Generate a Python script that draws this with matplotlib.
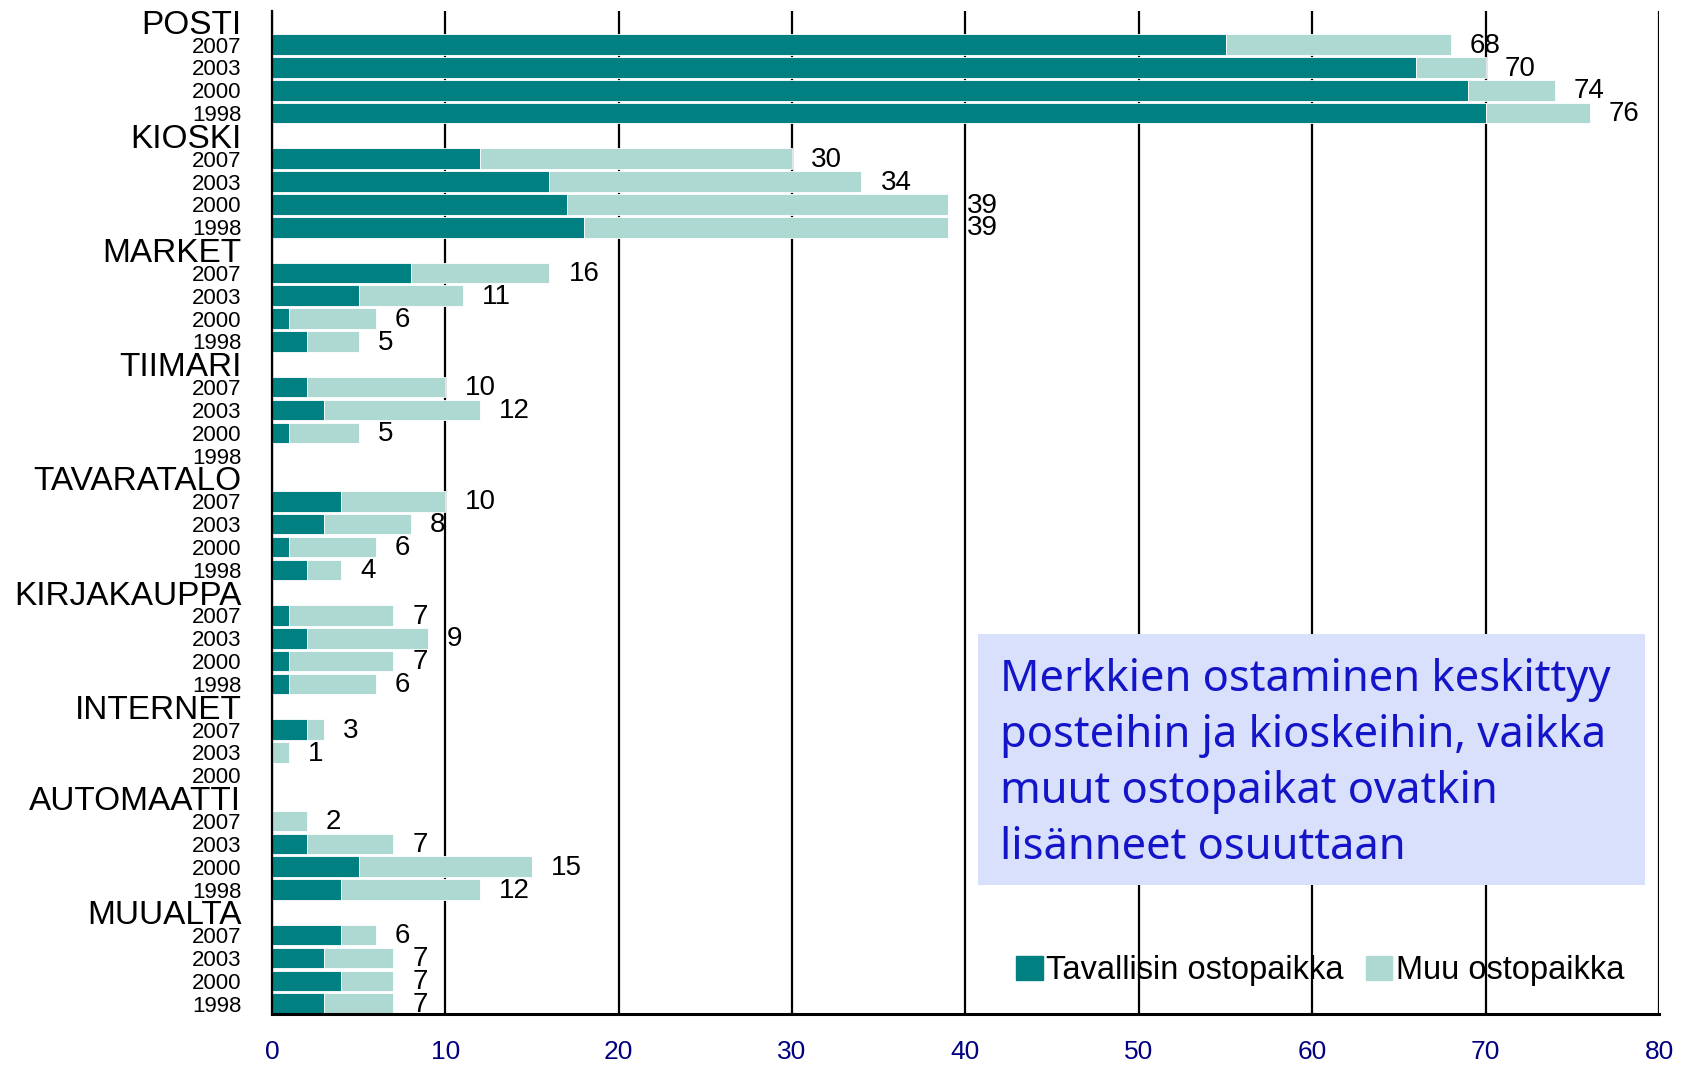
import matplotlib.pyplot as plt
import numpy as np

categories = ['POSTI', 'KIOSKI', 'MARKET', 'TIIMARI', 'TAVARATALO',
              'KIRJAKAUPPA', 'INTERNET', 'AUTOMAATTI', 'MUUALTA']
years = [
    ['2007', '2003', '2000', '1998'],
    ['2007', '2003', '2000', '1998'],
    ['2007', '2003', '2000', '1998'],
    ['2007', '2003', '2000', '1998'],
    ['2007', '2003', '2000', '1998'],
    ['2007', '2003', '2000', '1998'],
    ['2007', '2003', '2000'],
    ['2007', '2003', '2000', '1998'],
    ['2007', '2003', '2000', '1998'],
]
# Tavallisin ostopaikka (dark part)
tavallisin = [
    [55, 66, 69, 70],
    [12, 16, 17, 18],
    [8, 5, 1, 2],
    [2, 3, 1, None],
    [4, 3, 1, 2],
    [1, 2, 1, 1],
    [2, 0, None],
    [0, 2, 5, 4],
    [4, 3, 4, 3],
]
# total (Tavallisin + Muu)
yhteensa = [
    [68, 70, 74, 76],
    [30, 34, 39, 39],
    [16, 11, 6, 5],
    [10, 12, 5, None],
    [10, 8, 6, 4],
    [7, 9, 7, 6],
    [3, 1, None],
    [2, 7, 15, 12],
    [6, 7, 7, 7],
]

dark = '#008080'
light = '#AED8D2'

plt.rcParams['font.family'] = ['Liberation Sans', 'DejaVu Sans']
fig = plt.figure(figsize=(16.86, 10.66), dpi=100)
ax = fig.add_axes([0.1613, 0.0488, 0.8227, 0.9409])

ytick_pos, ytick_lab, ytick_big = [], [], []
row = 0
for cat, yrs, tav, tot in zip(categories, years, tavallisin, yhteensa):
    ytick_pos.append(row)
    ytick_lab.append(cat)
    ytick_big.append(True)
    row += 1
    for yr, d, t in zip(yrs, tav, tot):
        ytick_pos.append(row)
        ytick_lab.append(yr)
        ytick_big.append(False)
        if t is not None:
            ax.barh(row, d, height=0.9, color=dark, edgecolor='white', linewidth=0.6, zorder=2)
            ax.barh(row, t - d, left=d, height=0.9, color=light, edgecolor='white', linewidth=0.6, zorder=2)
            ax.text(t + 1.1, row + 0.05, str(t), ha='left', va='center', fontsize=20, zorder=4)
        row += 1

ax.set_ylim(row - 1 + 0.45, -0.47)
ax.set_xlim(0, 80)
ax.set_xticks(np.arange(0, 81, 10))
ax.tick_params(axis='x', length=0, pad=19, labelsize=19, labelcolor='#000080')
ax.set_yticks(ytick_pos)
ax.set_yticklabels(ytick_lab)
for lab, big in zip(ax.get_yticklabels(), ytick_big):
    lab.set_fontsize(24 if big else 16)
ax.tick_params(axis='y', length=0, pad=22)

ax.set_axisbelow(True)
ax.grid(axis='x', color='black', linewidth=1.6)
ax.grid(axis='y', visible=False)
for s in ['top', 'right']:
    ax.spines[s].set_visible(False)
ax.spines['left'].set_linewidth(1.6)
ax.spines['bottom'].set_linewidth(2.2)

# info box
box = plt.Rectangle((0.509, 0.1286), 0.481, 0.2504, transform=ax.transAxes,
                    facecolor='#D8E0FC', edgecolor='none', zorder=3)
ax.add_patch(box)
ax.text(0.525, 0.249,
        'Merkkien ostaminen keskittyy\nposteihin ja kioskeihin, vaikka\n'
        'muut ostopaikat ovatkin\nlisänneet osuuttaan',
        transform=ax.transAxes, ha='left', va='center', fontsize=31.3,
        color='#1414C8', family=['Noto Sans', 'DejaVu Sans'], linespacing=1.36, zorder=4)

h1 = plt.Rectangle((0, 0), 1, 1, color=dark)
h2 = plt.Rectangle((0, 0), 1, 1, color=light)
ax.legend([h1, h2], ['Tavallisin ostopaikka', 'Muu ostopaikka'], ncol=2, frameon=False,
          loc='center', bbox_to_anchor=(0.7557, 0.043), fontsize=23.5,
          handlelength=0.8, handleheight=0.75, handletextpad=0.1, columnspacing=0.7)

plt.savefig('out.png', dpi=100)
